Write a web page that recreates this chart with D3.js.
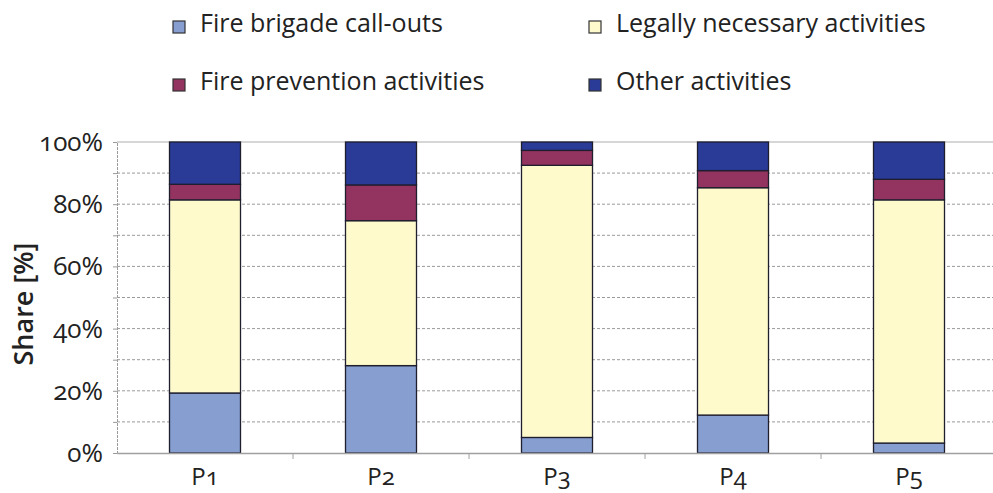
<!DOCTYPE html>
<html>
<head>
<meta charset="utf-8">
<script src="https://cdn.jsdelivr.net/npm/d3@7"></script>
<style>
  body { margin: 0; background: #fff; }
  text { font-family: "Open Sans", sans-serif; fill: #222; font-feature-settings: "onum"; }
</style>
</head>
<body>
<svg id="chart" width="993" height="493"></svg>
<script>
// periods and stacked shares (%)
const periods = ["P1", "P2", "P3", "P4", "P5"];
const callOuts = [19.3, 28.1, 5.0, 12.2, 3.2];
const legalActs = [62.1, 46.6, 87.5, 73.1, 78.2];
const prevention = [5.0, 11.5, 4.8, 5.5, 6.6];
const otherActs = [13.6, 13.8, 2.7, 9.2, 12.0];
const seriesNames = ["Fire brigade call-outs", "Legally necessary activities", "Fire prevention activities", "Other activities"];
const seriesColors = ["#879ed0", "#fffacc", "#93335f", "#293a97"];
const yTicks = [0, 20, 40, 60, 80, 100];

const svg = d3.select("#chart");
const margin = { left: 117, top: 142, right: -4, bottom: 40 };
const W = 993, H = 493;

const rows = periods.map((p, i) => ({
    period: p, s0: callOuts[i], s1: legalActs[i], s2: prevention[i], s3: otherActs[i]
}));
const stacked = d3.stack().keys(["s0", "s1", "s2", "s3"])(rows);

const x = d3.scaleBand().domain(periods).range([margin.left, W - margin.right]).paddingInner(0).paddingOuter(0);
const y = d3.scaleLinear().domain([0, 100]).range([453, margin.top]);
const barW = 71;

// gridlines
svg.append("g")
    .selectAll("line")
    .data(d3.range(10, 101, 10))
    .enter()
    .append("line")
    .attr("x1", margin.left).attr("x2", W)
    .attr("y1", d => y(d)).attr("y2", d => y(d))
    .attr("stroke", d => d === 100 ? "#c8c8c8" : "#9a9a9a")
    .attr("stroke-width", d => d === 100 ? 1.5 : 1)
    .attr("stroke-dasharray", d => d === 100 ? null : "3,2");

// y axis
let yAxis = svg.append("g")
    .attr("transform", `translate(${margin.left},0)`)
    .call(d3.axisLeft(y).tickValues(d3.range(0, 101, 10)).tickSize(4).tickFormat(""));
yAxis.select(".domain").attr("stroke", "#9a9a9a").attr("stroke-dasharray", "3,1");
yAxis.selectAll(".tick line").attr("stroke", "#9a9a9a");

svg.append("g")
    .selectAll("text")
    .data(yTicks)
    .enter()
    .append("text")
    .attr("x", 103)
    .attr("y", d => y(d) + 9)
    .attr("text-anchor", "end")
    .attr("font-size", 26)
    .text(d => d + "%");

// bars
svg.append("g")
    .selectAll("g")
    .data(stacked)
    .enter()
    .append("g")
    .attr("fill", (d, i) => seriesColors[i])
    .selectAll("rect")
    .data(d => d)
    .enter()
    .append("rect")
    .attr("x", d => x(d.data.period) + (x.bandwidth() - barW) / 2)
    .attr("y", d => y(d[1]))
    .attr("width", barW)
    .attr("height", d => y(d[0]) - y(d[1]))
    .attr("stroke", "#1e1e2e")
    .attr("stroke-width", 1.3);

// x axis
let xAxis = svg.append("g")
    .attr("transform", "translate(0,453)")
    .call(d3.axisBottom(x).tickSize(0).tickFormat(""));
xAxis.select(".domain").attr("stroke", "#a0a0a0").attr("stroke-width", 1.5);

svg.append("g")
    .selectAll("line")
    .data(periods.slice(1))
    .enter()
    .append("line")
    .attr("x1", d => x(d)).attr("x2", d => x(d))
    .attr("y1", 453).attr("y2", 459)
    .attr("stroke", "#a0a0a0");

svg.append("g")
    .selectAll("text")
    .data(periods)
    .enter()
    .append("text")
    .attr("x", d => x(d) + x.bandwidth() / 2)
    .attr("y", 485)
    .attr("text-anchor", "middle")
    .attr("font-size", 24)
    .text(d => d);

// y title
svg.append("text")
    .attr("transform", "translate(33,304) rotate(-90)")
    .attr("text-anchor", "middle")
    .attr("font-size", 27)
    .attr("font-weight", 600)
    .text("Share [%]");

// legend
const legendPos = [[173, 27], [589, 27], [173, 85], [589, 85]];
let leg = svg.append("g")
    .selectAll("g")
    .data(seriesNames)
    .enter()
    .append("g")
    .attr("transform", (d, i) => `translate(${legendPos[i][0]},${legendPos[i][1]})`);

leg.append("rect")
    .attr("x", 0).attr("y", -6)
    .attr("width", 12).attr("height", 12)
    .attr("fill", (d, i) => seriesColors[i])
    .attr("stroke", "#333")
    .attr("stroke-width", 1.2);

leg.append("text")
    .attr("x", 27)
    .attr("y", 5)
    .attr("font-size", 25)
    .text(d => d);
</script>
</body>
</html>
